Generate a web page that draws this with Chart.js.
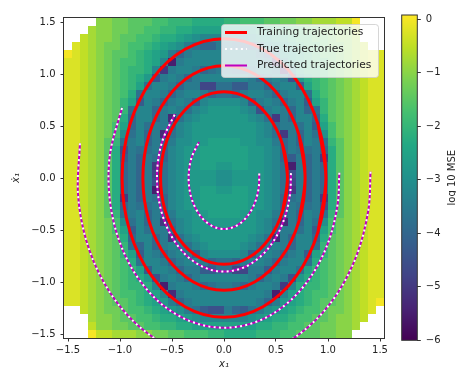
<!DOCTYPE html>
<html>
<head>
<meta charset="utf-8">
<script src="https://cdn.jsdelivr.net/npm/chart.js@4.4.1/dist/chart.umd.min.js"></script>
<style>
  html, body { margin: 0; padding: 0; background: #fff; overflow: hidden; }
  #wrap { position: relative; width: 456px; height: 369px; }
  #mainChart { position: absolute; left: 0; top: 0; }
  #cbChart { position: absolute; left: 395px; top: 0; }
</style>
</head>
<body>
<div id="wrap">
  <canvas id="mainChart" width="395" height="369"></canvas>
  <canvas id="cbChart" width="61" height="369"></canvas>
</div>
<script>
// log10 MSE on a 40 x 40 grid, first row is x1dot = 1.5, first column x1 = -1.5
// one letter per cell: a = 0, b = -0.25, c = -0.5 ... y = -6, "." = no value
const mseRows = [
  "....eeffggghhiiijjjjiihhhggffeedddcca...",
  "...deeffgghhiijjkkkkkkkkjjiihhggffeec...",
  "..cdeefgghhijjklmnnnnnnmlkjjihhggfeed...",
  ".bcdeffghhijklmopqqoopqqomlkjihhgffedc..",
  "abcdefgghijkloqonnnnnnnnoqolkjihggfedcbb",
  "bbcdefghhijknwonnnnnnnnnnovnkjihhgfedcbb",
  "bbcdefghiijnuonnoqpoopqonnownjiihgfedcbb",
  "bbcdefghijlsonoqonnnnnnoqonosljihgfedcbb",
  "bbcdefghikpnnoqoottpprrooqonnrkihgfedcbb",
  "bbcdefghjpnnoqonnoqppqonnoqonnpjhgfedcbb",
  "bbcdefgikrnoqonornmmmmnronoqonrkigfedcbb",
  "bbcdefgipnnqonopnmllllmnsonoqnqpigfedcbb",
  "bbcdefgjqnnqovpnmllllllmnpuoqnnqjgfedcbb",
  "bbcdefhkqnpooqnmllllllllmnqoopnrkhfedcbb",
  "bbcdefhmpnqovpnmllllllllmnpuoqnpmhfedcbb",
  "bbcdegiponqoqommllkkkkllmmoqoqnopigedcbb",
  "bbcdegjsoppoqnmllkkkkkkllmnqoppoqjgedcbb",
  "bbcdegjroqopqnmllkkkkkkllmnqroqoujgedcbb",
  "bbcdegjqoqoupnmllkkllkkllmnpwoqoqjgedcbb",
  "bbcdegjqoqotpnmllllmmllllmnpsoqoqjgedcbb",
  "bbcdegjqoqospnmllllmmllllmnptoqoqjgedcbb",
  "bbcdegjqoqowpnmllkkllkkllmnpuoqoqjgedcbb",
  "bbcdegjuoqopqnmllkkkkkkllmnqpoqoujgedcbb",
  "bbcdegjqoppoqnmllkkkkkkllmnqopposjgedcbb",
  "bbcdegiponqoqommllkkkkllmmoqoqnopigedcbb",
  "bbcdefhmpnqoupnmllllllllmnpvoqnpmhfedcbb",
  "bbcdefhkrnpooqnmllllllllmnqoopnrkhfedcbb",
  "bbcdefgjqnnqoupnmllllllmnpvoqnnqjgfedcbb",
  "bbcdefgipqnqonopnmllllmnponoqnnpigfedcbb",
  "bbcdefgikrnoqonornmmmmnronoqonrkigfedcbb",
  "bbcdefghjpnnoqonnoqppqonnoqonnpjhgfedcbb",
  "bbcdefghikrnnoqoorrppttooronnpkihgfedcbb",
  "bbcdefghijlsonoqonnnnnnoqonosljihgfedcbb",
  "bbcdefghiijnwonnoqpoopqonnounjiihgfedcbb",
  "bbcdefghhijknvonnnnnnnnnnownkjihhgfedcbb",
  "bbcdefgghijkloqonnnnnnnnoqolkjihggfedcba",
  "..cdeffghhijklmoprssoqrpomlkjihhgffedcb.",
  "...deefgghhijjklmnnnnnnmlkjjihhggfeedc..",
  "...ceeffgghhiijjkkkkkkkkjjiihhggffeed...",
  "...accdddeeffgghhhiijjjjiiihhgggffee....",
];
const gridMin = -1.5;
const gridMax = 1.5;

const axisTicks = [-1.5, -1, -0.5, 0, 0.5, 1, 1.5];
const colorbarTicks = [-6, -5, -4, -3, -2, -1, 0];
const colorMin = -6;
const colorMax = 0.08;

// training trajectories (closed, first and last two points overlap)
const trainInnerX = [0.564, 0.61, 0.564, 0.431, 0.234, 0, -0.234, -0.431, -0.564, -0.61, -0.564, -0.431, -0.234, 0, 0.234, 0.431, 0.564, 0.61, 0.564];
const trainInnerY = [-0.318, 0, 0.318, 0.587, 0.767, 0.83, 0.767, 0.587, 0.318, 0, -0.318, -0.587, -0.767, -0.83, -0.767, -0.587, -0.318, 0, 0.318];
const trainMidX = [0.721, 0.78, 0.721, 0.551, 0.298, 0, -0.298, -0.551, -0.721, -0.78, -0.721, -0.551, -0.298, 0, 0.298, 0.551, 0.721, 0.78, 0.721];
const trainMidY = [-0.414, 0, 0.414, 0.764, 0.998, 1.08, 0.998, 0.764, 0.414, 0, -0.414, -0.764, -0.998, -1.08, -0.998, -0.764, -0.414, 0, 0.414];
const trainOuterX = [0.905, 0.98, 0.905, 0.693, 0.375, 0, -0.375, -0.693, -0.905, -0.98, -0.905, -0.693, -0.375, 0, 0.375, 0.693, 0.905, 0.98, 0.905];
const trainOuterY = [-0.513, 0, 0.513, 0.947, 1.238, 1.34, 1.238, 0.947, 0.513, 0, -0.513, -0.947, -1.238, -1.34, -1.238, -0.947, -0.513, 0, 0.513];

// test trajectories, true path (predicted path lies on top of it)
const testAX = [0.339, 0.335, 0.308, 0.26, 0.195, 0.116, 0.03, -0.059, -0.144, -0.219, -0.278, -0.32, -0.339, -0.335, -0.308, -0.24];
const testAY = [0.043, -0.085, -0.207, -0.315, -0.401, -0.461, -0.488, -0.483, -0.444, -0.375, -0.281, -0.168, -0.043, 0.085, 0.207, 0.346];
const testBX = [0.644, 0.635, 0.584, 0.494, 0.37, 0.221, 0.056, -0.112, -0.273, -0.415, -0.528, -0.606, -0.642, -0.635, -0.584, -0.472];
const testBY = [0.047, -0.157, -0.381, -0.579, -0.737, -0.846, -0.896, -0.887, -0.815, -0.689, -0.517, -0.308, -0.078, 0.157, 0.381, 0.614];
const testCX = [1.109, 1.093, 1.006, 0.85, 0.637, 0.38, 0.097, -0.193, -0.47, -0.714, -0.909, -1.043, -1.106, -1.093, -0.98];
const testCY = [0.05, -0.251, -0.609, -0.926, -1.179, -1.354, -1.434, -1.418, -1.305, -1.103, -0.827, -0.492, -0.125, 0.251, 0.675];
const testDX = [1.409, 1.389, 1.277, 1.08, 0.809, 0.482, 0.123, -0.245, -0.596, -0.907, -1.155, -1.325, -1.404, -1.385];
const testDY = [0.06, -0.304, -0.74, -1.125, -1.433, -1.645, -1.743, -1.724, -1.586, -1.341, -1.005, -0.599, -0.152, 0.334];

const legendLabels = ["Training trajectories", "True trajectories", "Predicted trajectories"];

const RED = "#ff0000";
const MAGENTA = "#bf00bf";
const VIRIDIS = ["#440154", "#482475", "#414487", "#355f8d", "#2a788e", "#21918c",
  "#22a884", "#44bf70", "#7ad151", "#bddf26", "#fde725"];

Chart.defaults.font.family = "'DejaVu Sans', 'Liberation Sans', sans-serif";
Chart.defaults.font.size = 10;
Chart.defaults.color = "#222";

function hexToRgb(h) {
  const n = parseInt(h.slice(1), 16);
  return [(n >> 16) & 255, (n >> 8) & 255, n & 255];
}

function viridis(t) {
  t = Math.min(1, Math.max(0, t));
  const p = t * (VIRIDIS.length - 1);
  const i = Math.min(Math.floor(p), VIRIDIS.length - 2);
  const f = p - i;
  const a = hexToRgb(VIRIDIS[i]);
  const b = hexToRgb(VIRIDIS[i + 1]);
  const c = a.map((v, k) => Math.round(v + (b[k] - v) * f));
  return `rgb(${c[0]},${c[1]},${c[2]})`;
}

function cellValue(ch) {
  if (ch === ".") return null;
  return -0.25 * (ch.charCodeAt(0) - 97);
}

function formatTick(v, digits) {
  const s = Math.abs(v).toFixed(digits);
  return v < 0 ? "\u2212" + s : s;
}

function toPoints(xs, ys) {
  return xs.map((x, k) => ({ x: x, y: ys[k] }));
}

const halfCell = (gridMax - gridMin) / (mseRows.length - 1) / 2;

const heatmapPlugin = {
  id: "heatmap",
  beforeDatasetsDraw(chart) {
    const { ctx, chartArea, scales } = chart;
    const step = halfCell * 2;
    ctx.save();
    ctx.beginPath();
    ctx.rect(chartArea.left, chartArea.top, chartArea.width, chartArea.height);
    ctx.clip();
    mseRows.forEach((row, j) => {
      const yc = gridMax - j * step;
      const top = Math.round(scales.y.getPixelForValue(yc + halfCell));
      const bottom = Math.round(scales.y.getPixelForValue(yc - halfCell));
      for (let i = 0; i < row.length; i++) {
        const v = cellValue(row[i]);
        if (v === null) continue;
        const xc = gridMin + i * step;
        const left = Math.round(scales.x.getPixelForValue(xc - halfCell));
        const right = Math.round(scales.x.getPixelForValue(xc + halfCell));
        ctx.fillStyle = viridis((v - colorMin) / (colorMax - colorMin));
        ctx.fillRect(left, top, right - left, bottom - top);
      }
    });
    ctx.restore();
  },
};

function roundRect(ctx, x, y, w, h, r) {
  ctx.beginPath();
  ctx.moveTo(x + r, y);
  ctx.arcTo(x + w, y, x + w, y + h, r);
  ctx.arcTo(x + w, y + h, x, y + h, r);
  ctx.arcTo(x, y + h, x, y, r);
  ctx.arcTo(x, y, x + w, y, r);
  ctx.closePath();
}

const frameLegendPlugin = {
  id: "frameLegend",
  afterDatasetsDraw(chart) {
    const { ctx, chartArea: a } = chart;
    ctx.save();
    ctx.strokeStyle = "#333";
    ctx.lineWidth = 1;
    ctx.strokeRect(a.left - 0.5, a.top - 0.5, a.width + 1, a.height + 1);

    // legend box, upper right inside the axes
    roundRect(ctx, 221.5, 24.5, 157, 53, 3);
    ctx.fillStyle = "rgba(255,255,255,0.8)";
    ctx.fill();
    ctx.strokeStyle = "rgba(204,204,204,0.8)";
    ctx.stroke();

    const styles = [
      { color: RED, width: 3, dash: [] },
      { color: "#ffffff", width: 2, dash: [2, 3.3] },
      { color: MAGENTA, width: 2, dash: [] },
    ];
    const rowY = [32.5, 49, 65.5];
    legendLabels.forEach((label, k) => {
      const st = styles[k];
      ctx.beginPath();
      ctx.setLineDash(st.dash);
      ctx.strokeStyle = st.color;
      ctx.lineWidth = st.width;
      ctx.moveTo(225, rowY[k]);
      ctx.lineTo(247, rowY[k]);
      ctx.stroke();
      ctx.setLineDash([]);
      ctx.fillStyle = "#222";
      ctx.font = "10.7px 'DejaVu Sans', sans-serif";
      ctx.textBaseline = "middle";
      ctx.textAlign = "left";
      ctx.fillText(label, 257, rowY[k]);
    });
    ctx.restore();
  },
};

function lineSet(xs, ys, color, width, dash, order) {
  return {
    data: toPoints(xs, ys),
    showLine: true,
    borderColor: color,
    borderWidth: width,
    borderDash: dash,
    pointRadius: 0,
    tension: 0.34,
    fill: false,
    order: order,
  };
}

const testTracks = [[testAX, testAY], [testBX, testBY], [testCX, testCY], [testDX, testDY]];
const trainTracks = [[trainInnerX, trainInnerY], [trainMidX, trainMidY], [trainOuterX, trainOuterY]];

const datasets = [];
testTracks.forEach(([xs, ys]) => datasets.push(lineSet(xs, ys, "#ffffff", 2, [2, 3.3], 1)));
testTracks.forEach(([xs, ys]) => datasets.push(lineSet(xs, ys, MAGENTA, 2, [], 2)));
trainTracks.forEach(([xs, ys]) => datasets.push(lineSet(xs, ys, RED, 3, [], 3)));

const axisCommon = {
  type: "linear",
  min: gridMin - halfCell,
  max: gridMax + halfCell,
  afterBuildTicks: (s) => { s.ticks = axisTicks.map((v) => ({ value: v })); },
  grid: { drawOnChartArea: false, drawTicks: true, tickLength: 3.5, tickColor: "#333", tickWidth: 1 },
  border: { display: false },
};

new Chart(document.getElementById("mainChart"), {
  type: "scatter",
  data: { datasets: datasets },
  options: {
    responsive: false,
    animation: false,
    events: [],
    layout: { padding: { top: 18, right: 11, bottom: 0, left: 0 } },
    plugins: { legend: { display: false }, tooltip: { enabled: false } },
    elements: { line: { capBezierPoints: false }, point: { radius: 0 } },
    scales: {
      x: {
        ...axisCommon,
        afterFit: (s) => { s.height = 31; },
        ticks: { autoSkip: false, maxRotation: 0, minRotation: 0, padding: 3, callback: (v) => formatTick(v, 1) },
        title: { display: true, text: "x\u2081", font: { style: "italic", size: 10, lineHeight: 1 }, padding: { top: 0, bottom: 0 } },
      },
      y: {
        ...axisCommon,
        afterFit: (s) => { s.width = 64; },
        ticks: { autoSkip: false, padding: 5, callback: (v) => formatTick(v, 1) },
        title: { display: true, text: "\u1e8b\u2081", font: { style: "italic", size: 10, lineHeight: 1.2 }, padding: { top: 10, bottom: 0 } },
      },
    },
  },
  plugins: [heatmapPlugin, frameLegendPlugin],
});

const colorbarPlugin = {
  id: "colorbarFrame",
  afterDraw(chart) {
    const { ctx, chartArea: a } = chart;
    ctx.save();
    ctx.strokeStyle = "#333";
    ctx.lineWidth = 1;
    ctx.strokeRect(a.left, a.top, a.width, a.height);
    ctx.translate(57, (a.top + a.bottom) / 2);
    ctx.rotate(-Math.PI / 2);
    ctx.fillStyle = "#222";
    ctx.font = "10px 'DejaVu Sans', sans-serif";
    ctx.textAlign = "center";
    ctx.textBaseline = "middle";
    ctx.fillText("log 10 MSE", 0, 0);
    ctx.restore();
  },
};

new Chart(document.getElementById("cbChart"), {
  type: "bar",
  data: {
    labels: ["log 10 MSE"],
    datasets: [{
      data: [[colorMin, colorMax]],
      barPercentage: 1,
      categoryPercentage: 1,
      borderWidth: 0,
      backgroundColor: (c) => {
        const area = c.chart.chartArea;
        if (!area) return VIRIDIS[5];
        const g = c.chart.ctx.createLinearGradient(0, area.bottom, 0, area.top);
        VIRIDIS.forEach((col, k) => g.addColorStop(k / (VIRIDIS.length - 1), col));
        return g;
      },
    }],
  },
  options: {
    responsive: false,
    animation: false,
    events: [],
    layout: { padding: { top: 15, bottom: 28.7, left: 6.7, right: 0 } },
    plugins: { legend: { display: false }, tooltip: { enabled: false } },
    scales: {
      x: { display: false },
      y: {
        position: "right",
        min: colorMin,
        max: colorMax,
        afterBuildTicks: (s) => { s.ticks = colorbarTicks.map((v) => ({ value: v })); },
        afterFit: (s) => { s.width = 38.7; },
        ticks: { padding: 5, callback: (v) => formatTick(v, 0) },
        grid: { drawOnChartArea: false, drawTicks: true, tickLength: 3.5, tickColor: "#333", tickWidth: 1 },
        border: { display: false },
      },
    },
  },
  plugins: [colorbarPlugin],
});
</script>
</body>
</html>
